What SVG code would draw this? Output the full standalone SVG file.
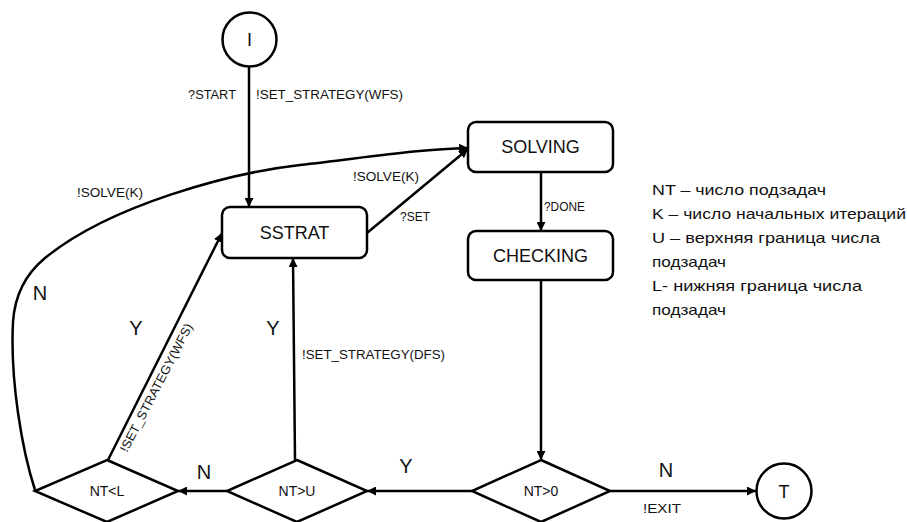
<svg xmlns="http://www.w3.org/2000/svg" width="907" height="522" viewBox="0 0 907 522">
<defs>
<marker id="ah" viewBox="0 0 10 10" refX="10" refY="5" markerWidth="3.6" markerHeight="3.6" orient="auto" markerUnits="strokeWidth">
<path d="M0,0 L10,5 L0,10 Z" fill="#000"/>
</marker>
<style>
.sh{fill:#fff;stroke:#000;stroke-width:2.5}
.ln{fill:none;stroke:#000;stroke-width:2.5;marker-end:url(#ah)}
text{font-family:"Liberation Sans",Arial,sans-serif;fill:#111}
.nl{font-size:18px;text-anchor:middle}
.dl{font-size:14px;text-anchor:middle}
.el{font-size:12.5px}
.yn{font-size:20px;text-anchor:middle}
.lg{font-size:15px}
</style>
</defs>
<rect width="907" height="522" fill="#fff"/>
<g id="connectors">
<line class="ln" x1="249" y1="67" x2="249" y2="207"/>
<line class="ln" x1="367" y1="233" x2="468" y2="149"/>
<path class="ln" d="M35,490 C22,450 10,380 13,322 C15,292 28,272 45,258 C110,205 230,173 300,165 C370,157 420,149 468,148"/>
<line class="ln" x1="541" y1="172" x2="541" y2="231"/>
<line class="ln" x1="541" y1="280" x2="541" y2="460"/>
<line class="ln" x1="610" y1="491" x2="756" y2="491"/>
<line class="ln" x1="472" y1="491" x2="367" y2="491"/>
<line class="ln" x1="227" y1="491" x2="178" y2="491"/>
<line class="ln" x1="295" y1="460" x2="293" y2="258"/>
<line class="ln" x1="108" y1="460" x2="222" y2="233"/>
</g>
<g id="lbl">
<text class="el" x="188" y="99" textLength="48" lengthAdjust="spacingAndGlyphs">?START</text>
<text class="el" x="256" y="99" textLength="147" lengthAdjust="spacingAndGlyphs">!SET_STRATEGY(WFS)</text>
<text class="el" x="353" y="181" textLength="66" lengthAdjust="spacingAndGlyphs">!SOLVE(K)</text>
<text class="el" x="400" y="221" textLength="30" lengthAdjust="spacingAndGlyphs">?SET</text>
<text class="el" x="77" y="197" textLength="66" lengthAdjust="spacingAndGlyphs">!SOLVE(K)</text>
<text class="el" x="544" y="211" textLength="41" lengthAdjust="spacingAndGlyphs">?DONE</text>
<text class="el" x="302" y="359" textLength="143" lengthAdjust="spacingAndGlyphs">!SET_STRATEGY(DFS)</text>
<text class="el" x="643" y="513" textLength="38" lengthAdjust="spacingAndGlyphs">!EXIT</text>
<text class="el" transform="translate(127,453) rotate(-62.5)" textLength="143" lengthAdjust="spacingAndGlyphs">!SET_STRATEGY(WFS)</text>
<text class="yn" x="40" y="300">N</text>
<text class="yn" x="136" y="335">Y</text>
<text class="yn" x="273" y="335">Y</text>
<text class="yn" x="204" y="479">N</text>
<text class="yn" x="406" y="473">Y</text>
<text class="yn" x="666" y="477">N</text>
</g>
<g id="I"><circle class="sh" cx="249.5" cy="39.5" r="27"/><text class="nl" x="249.5" y="46">I</text></g>
<g id="T"><circle class="sh" cx="784" cy="491" r="27.5"/><text class="nl" x="784" y="498">T</text></g>
<g id="SSTRAT"><rect class="sh" x="222" y="207" width="145" height="51" rx="8"/><text class="nl" x="294.5" y="239">SSTRAT</text></g>
<g id="SOLVING"><rect class="sh" x="468" y="122" width="145" height="50" rx="8"/><text class="nl" x="540.5" y="153">SOLVING</text></g>
<g id="CHECKING"><rect class="sh" x="468" y="231" width="145" height="49" rx="8"/><text class="nl" x="540.5" y="262">CHECKING</text></g>
<g id="NT0"><polygon class="sh" points="541,460 610,491 541,522 472,491"/><text class="dl" x="541" y="496">NT&gt;0</text></g>
<g id="NTU"><polygon class="sh" points="297,460 367,491 297,522 227,491"/><text class="dl" x="297" y="496">NT&gt;U</text></g>
<g id="NTL"><polygon class="sh" points="107,460 178,491 107,522 35,491"/><text class="dl" x="107" y="496">NT&lt;L</text></g>
<g id="legend">
<text class="lg" x="652" y="195" textLength="174" lengthAdjust="spacingAndGlyphs">NT – число подзадач</text>
<text class="lg" x="652" y="219" textLength="254" lengthAdjust="spacingAndGlyphs">K – число начальных итераций</text>
<text class="lg" x="652" y="243" textLength="228" lengthAdjust="spacingAndGlyphs">U – верхняя граница числа</text>
<text class="lg" x="652" y="267" textLength="74" lengthAdjust="spacingAndGlyphs">подзадач</text>
<text class="lg" x="652" y="291" textLength="210" lengthAdjust="spacingAndGlyphs">L- нижняя граница числа</text>
<text class="lg" x="652" y="315" textLength="74" lengthAdjust="spacingAndGlyphs">подзадач</text>
</g>
</svg>
